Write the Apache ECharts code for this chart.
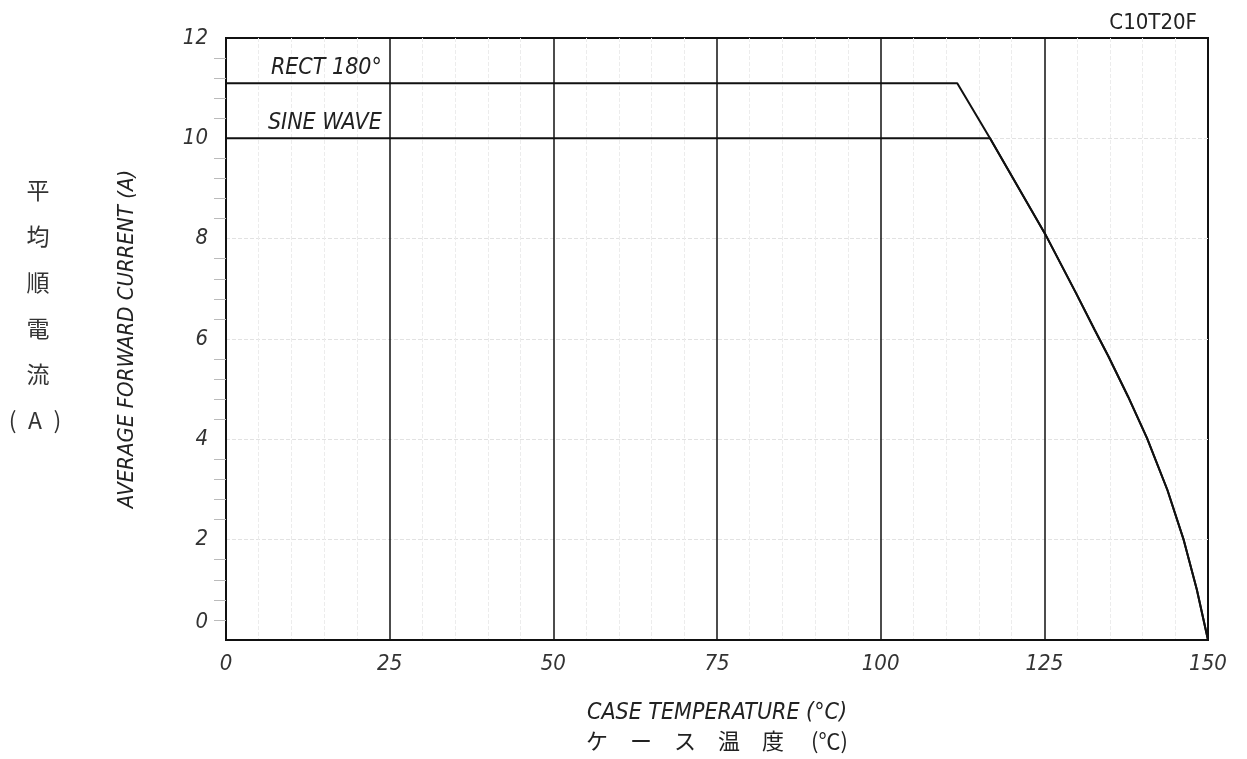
<!DOCTYPE html>
<html><head><meta charset="utf-8">
<script src="https://cdn.jsdelivr.net/npm/echarts@6/dist/echarts.min.js"></script>
<style>html,body{margin:0;padding:0;background:#fff}#c{width:1247px;height:759px}</style>
</head><body><div id="c"></div>
<script>
// Case temperature (°C) vs average forward current (A)
const rectData = [[0,11.1],[111.7,11.1],[116.7,10.0],[125.1,8.1],[129.9,6.9],[132.7,6.18],[134.8,5.65],[137.8,4.85],[140.7,4.02],[143.8,2.99],[146.3,1.99],[148.3,1.0],[150,0]];
const sineData = [[0,10.0],[116.7,10.0],[125.1,8.1],[129.9,6.9],[132.7,6.18],[134.8,5.65],[137.8,4.85],[140.7,4.02],[143.8,2.99],[146.3,1.99],[148.3,1.0],[150,0]];
const seriesNames = ['RECT 180°','SINE WAVE'];
const labelAt = [[23.8,11.1],[23.8,10.0]];
const xTicks = [0,25,50,75,100,125,150];
const yTicks = [0,2,4,6,8,10,12];

const F = "'Liberation Sans Narrow','DejaVu Sans Condensed','Liberation Sans',sans-serif";
const J = "'Noto Sans CJK JP',sans-serif";
const chart = echarts.init(document.getElementById('c'));
function mk(name, data, at){
  return {
    name, type:'line', data, showSymbol:false, symbol:'none',
    lineStyle:{color:'#111', width:2}, z:3,
    markPoint:{
      symbol:'circle', symbolSize:0,
      data:[{coord:at}],
      label:{show:true, position:'inside', align:'right', verticalAlign:'bottom', offset:[0,-4],
        formatter:name, color:'#222', fontSize:23, fontStyle:'italic', fontFamily:F}
    }
  };
}
chart.setOption({
  animation:false,
  title:{text:'C10T20F', right:45, top:7, textStyle:{fontSize:22, fontWeight:'normal', color:'#222', fontFamily:F}},
  grid:{left:226, right:39, top:38, bottom:119, show:true, borderColor:'#111', borderWidth:2, backgroundColor:'transparent'},
  xAxis:{
    type:'value', min:0, max:150, interval:25,
    axisLine:{show:true, onZero:false, lineStyle:{color:'#111', width:2}},
    axisTick:{show:false},
    axisLabel:{color:'#333', fontSize:22, fontStyle:'italic', fontFamily:F, margin:13,
      formatter:v=> xTicks.includes(v)? String(v):''},
    splitLine:{show:true, showMinLine:false, showMaxLine:false, lineStyle:{color:'#111', width:1.5}},
    minorTick:{show:false, splitNumber:5},
    minorSplitLine:{show:true, lineStyle:{color:'#ececec', width:1, type:'dashed'}},
    name:'{en|CASE TEMPERATURE (°C)}\n{jp|ケ　ー　ス　温　度　 (℃)}',
    nameLocation:'middle', nameGap:60,
    nameTextStyle:{rich:{
      en:{fontSize:23, fontStyle:'italic', fontFamily:F, color:'#222', lineHeight:27},
      jp:{fontSize:22, fontFamily:J, color:'#222', lineHeight:28}
    }}
  },
  yAxis:{
    type:'value', min:0, max:12, interval:2,
    axisLine:{show:true, lineStyle:{color:'#111', width:2}},
    axisTick:{show:false},
    minorTick:{show:true, splitNumber:5, length:12, lineStyle:{color:'#bbb', width:1}},
    axisLabel:{color:'#333', fontSize:22, fontStyle:'italic', fontFamily:F, margin:18,
      formatter:v=> v===0 ? '{z|0}' : (yTicks.includes(v)? '{n|'+v+'}':''),
      rich:{z:{fontSize:22, fontStyle:'italic', fontFamily:F, color:'#333', padding:[0,0,36,0]},
            n:{fontSize:22, fontStyle:'italic', fontFamily:F, color:'#333'}}},
    splitLine:{show:true, showMinLine:false, showMaxLine:false, lineStyle:{color:'#e2e2e2', width:1, type:'dashed'}},
    name:'AVERAGE FORWARD CURRENT (A)', nameLocation:'middle', nameRotate:90, nameGap:88,
    nameTextStyle:{fontSize:22, fontStyle:'italic', fontFamily:F, color:'#222'}
  },
  graphic:[
    {type:'text', x:38, y:167,
     style:{text:'平\n均\n順\n電\n流', font:'23px '+J, fill:'#333', lineHeight:46, align:'center', verticalAlign:'top'}},
    {type:'text', x:35, y:397,
     style:{text:'(\u2002A\u2002)', font:'23px '+J, fill:'#333', lineHeight:46, align:'center', verticalAlign:'top'}}
  ],
  series:[mk(seriesNames[0], rectData, labelAt[0]), mk(seriesNames[1], sineData, labelAt[1])]
});
</script></body></html>
